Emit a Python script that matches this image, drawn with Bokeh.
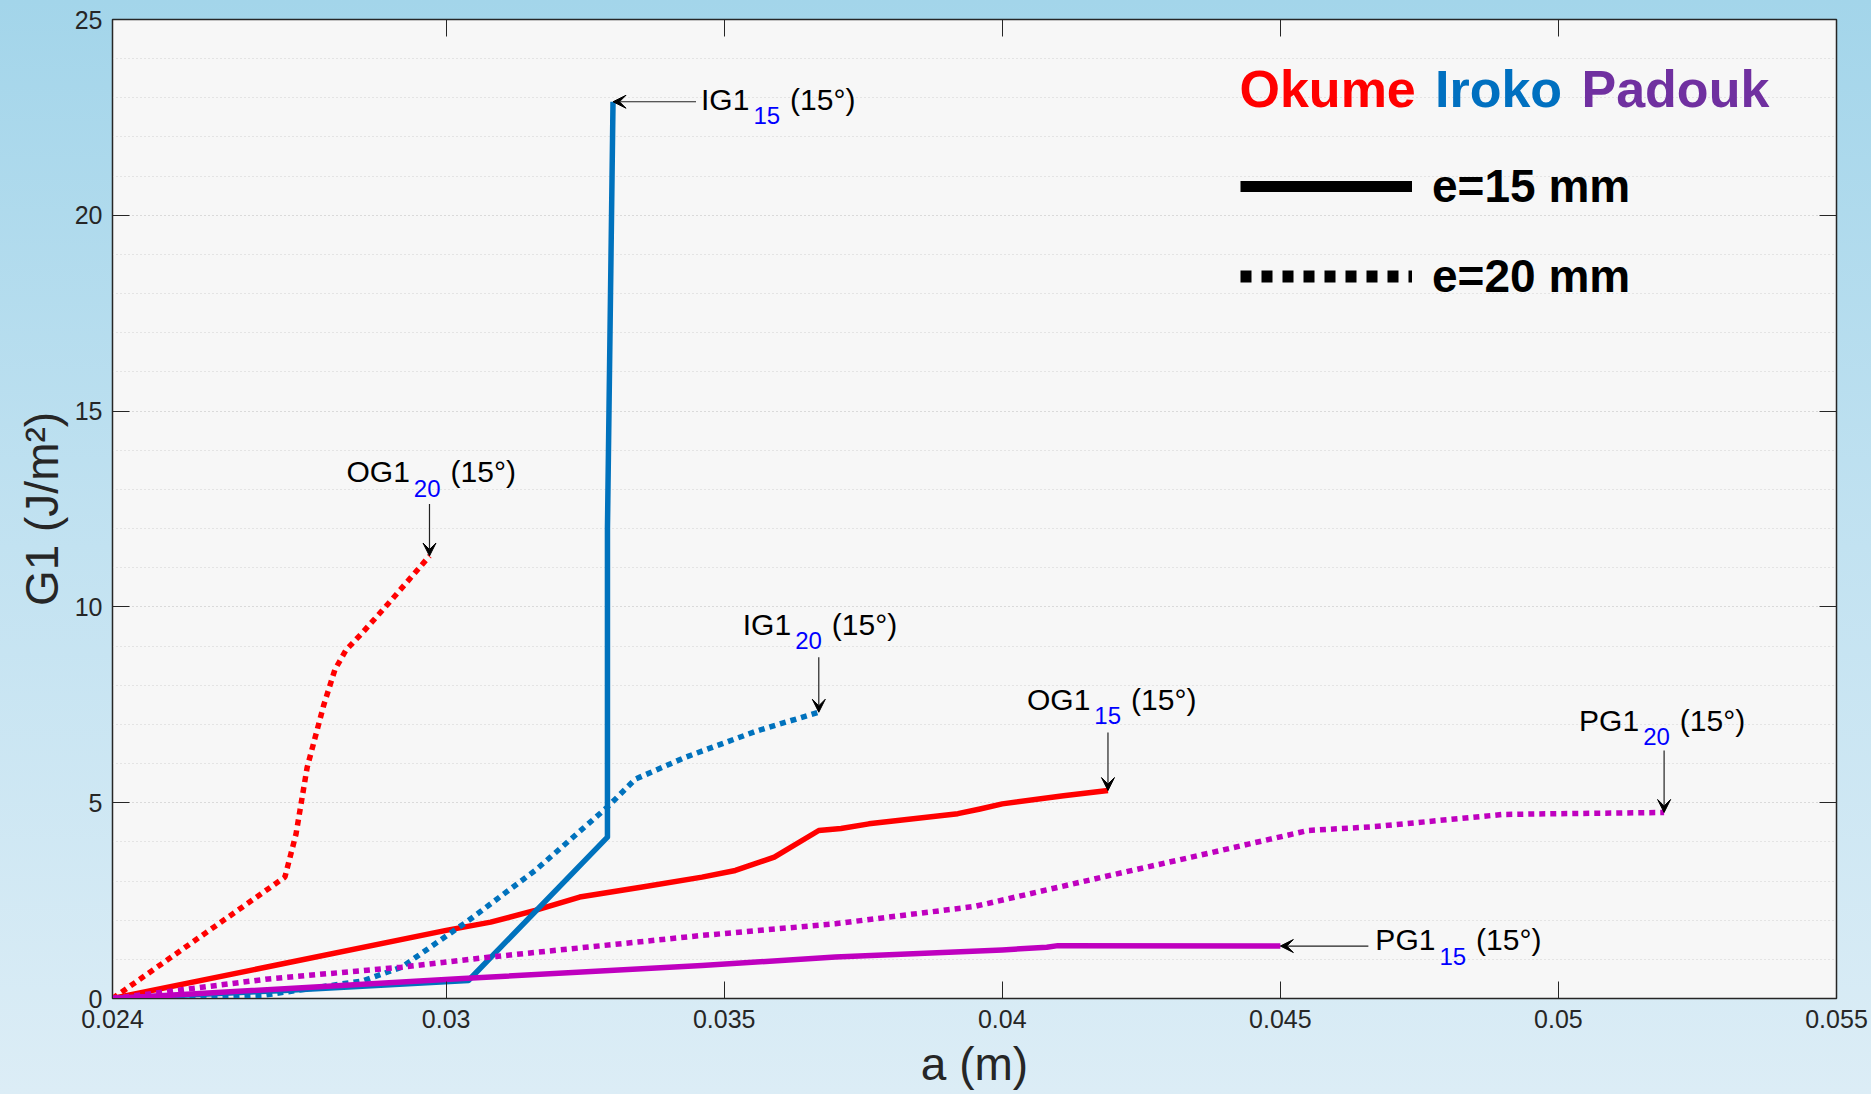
import numpy as np
from bokeh.plotting import figure
from bokeh.models import (Range1d, FixedTicker, LinearAxis, Label, Arrow, VeeHead,
                          Legend, LegendItem, CustomJSTickFormatter)
from bokeh.embed import file_html
from bokeh.resources import INLINE

# Crack length a (m) versus energy release rate G1 (J/m^2), mode I, 15 degree grain angle
og1_15_a = [0.024, 0.0300, 0.0308, 0.0316, 0.0324, 0.0335, 0.0346, 0.0352, 0.0359,
            0.0367, 0.0371, 0.0376, 0.0392, 0.0396, 0.0400, 0.0411, 0.0419]
og1_15_g = [0.0, 1.74, 1.95, 2.25, 2.59, 2.84, 3.10, 3.27, 3.61,
            4.29, 4.34, 4.46, 4.72, 4.84, 4.97, 5.18, 5.31]

og1_20_a = [0.024, 0.0271, 0.0273, 0.0275, 0.0278, 0.0280, 0.0282, 0.0285, 0.0290, 0.0297]
og1_20_g = [0.0, 3.10, 4.20, 5.90, 7.50, 8.40, 8.90, 9.35, 10.15, 11.30]

ig1_15_a = [0.024, 0.0270, 0.0304, 0.0329, 0.0329, 0.0330]
ig1_15_g = [0.0, 0.20, 0.46, 4.12, 12.0, 22.9]

ig1_20_a = [0.024, 0.0255, 0.0267, 0.0285, 0.0292, 0.0304, 0.0316, 0.0329,
            0.0334, 0.0343, 0.0356, 0.0367]
ig1_20_g = [0.0, 0.02, 0.08, 0.45, 0.80, 1.99, 3.27, 4.89,
            5.60, 6.16, 6.84, 7.31]

pg1_15_a = [0.024, 0.0303, 0.0346, 0.0370, 0.0400, 0.0408, 0.0410, 0.0450]
pg1_15_g = [0.0, 0.51, 0.84, 1.06, 1.24, 1.31, 1.35, 1.34]

pg1_20_a = [0.024, 0.0268, 0.0292, 0.0308, 0.0346, 0.0370, 0.0395, 0.0418,
            0.0434, 0.0455, 0.0467, 0.0490, 0.0500, 0.0519]
pg1_20_g = [0.0, 0.50, 0.80, 1.06, 1.61, 1.91, 2.35, 3.10,
            3.61, 4.29, 4.39, 4.70, 4.72, 4.75]

x_ticks = [0.024, 0.03, 0.035, 0.04, 0.045, 0.05, 0.055]
x_tick_labels = ["0.024", "0.03", "0.035", "0.04", "0.045", "0.05", "0.055"]
y_ticks = [0, 5, 10, 15, 20, 25]
y_tick_labels = ["0", "5", "10", "15", "20", "25"]
y_grid_minor = list(range(0, 26))

species = ["Okume", "Iroko", "Padouk"]
species_colors = ["#FF0000", "#0070C0", "#7030A0"]
thickness_labels = ["e=15 mm", "e=20 mm"]

X_MIN, X_MAX = 0.024, 0.055
Y_MIN, Y_MAX = 0.0, 25.0
W, H = 1871, 1094
LEFT, RIGHT, TOP, BOTTOM = 112, 35, 19, 96
FRAME_W = W - LEFT - RIGHT
FRAME_H = H - TOP - BOTTOM
BASE = 0.37  # lift (in em) that puts an alphabetic baseline where intended

RED, BLUE, MAGENTA = "#FF0000", "#0072BD", "#BF00BF"
INK = "#262626"
FONT = "Liberation Sans"

p = figure(width=W, height=H, output_backend="svg", toolbar_location=None,
           x_range=Range1d(X_MIN, X_MAX), y_range=Range1d(Y_MIN, Y_MAX),
           min_border_left=LEFT, min_border_right=RIGHT,
           min_border_top=TOP, min_border_bottom=BOTTOM)
p.styles = {"background": "linear-gradient(to bottom, #a3d5ea 0%, #c2e2f1 50%, #dcedf6 100%)"}
p.border_fill_color = None
p.background_fill_color = "#F7F7F7"
p.outline_line_color = INK
p.outline_line_width = 1.5

# bottom / left axes
p.xaxis.ticker = FixedTicker(ticks=x_ticks)
p.xaxis.major_label_overrides = {t: s for t, s in zip(x_ticks, x_tick_labels)}
p.yaxis.ticker = FixedTicker(ticks=y_ticks, minor_ticks=y_grid_minor)
p.yaxis.major_label_overrides = {t: s for t, s in zip(y_ticks, y_tick_labels)}
for ax in (p.xaxis, p.yaxis):
    ax.major_tick_in = 17
    ax.major_tick_out = 0
    ax.minor_tick_in = 0
    ax.minor_tick_out = 0
    ax.axis_line_color = INK
    ax.major_tick_line_color = INK
    ax.major_label_text_font = FONT
    ax.major_label_text_font_size = "25px"
    ax.major_label_text_color = INK
    ax.axis_label_text_font = FONT
    ax.axis_label_text_font_size = "46px"
    ax.axis_label_text_font_style = "normal"
    ax.axis_label_text_color = INK
p.xaxis.major_label_standoff = 11
p.yaxis.major_label_standoff = 10
p.xaxis.axis_label = "a (m)"
p.yaxis.axis_label = "G1 (J/m²)"
p.xaxis.axis_label_standoff = 7
p.yaxis.axis_label_standoff = 4

# mirrored ticks on top and right (box on)
blank = CustomJSTickFormatter(code="return ''")
top_ax = LinearAxis(ticker=FixedTicker(ticks=x_ticks), formatter=blank)
right_ax = LinearAxis(ticker=FixedTicker(ticks=y_ticks), formatter=blank)
for ax in (top_ax, right_ax):
    ax.major_tick_in = 17
    ax.major_tick_out = 0
    ax.minor_tick_in = 0
    ax.minor_tick_out = 0
    ax.axis_line_color = None
    ax.major_tick_line_color = INK
    ax.major_label_standoff = 0
p.add_layout(top_ax, "above")
p.add_layout(right_ax, "right")

p.xgrid.grid_line_color = None
p.ygrid.grid_line_color = "#D0D0D0"
p.ygrid.grid_line_dash = "1 3"
p.ygrid.minor_grid_line_color = "#D0D0D0"
p.ygrid.minor_grid_line_dash = "1 3"

ARIAL_W = {"O": 778, "G": 778, "I": 278, "P": 667,
           "0": 556, "1": 556, "2": 556, "5": 556, "(": 333, ")": 333, "°": 400, " ": 278}


def text_w(s, size):
    return sum(ARIAL_W[c] for c in s) * size / 1000.0


# curves
curves = [
    (og1_15_a, og1_15_g, RED, None),
    (og1_20_a, og1_20_g, RED, "6 5"),
    (ig1_15_a, ig1_15_g, BLUE, None),
    (ig1_20_a, ig1_20_g, BLUE, "6 5"),
    (pg1_15_a, pg1_15_g, MAGENTA, None),
    (pg1_20_a, pg1_20_g, MAGENTA, "6 5"),
]
for a, g, col, dash in curves:
    if dash is None:
        p.line(a, g, line_color=col, line_width=5.5, line_join="round")
    else:
        p.line(a, g, line_color=col, line_width=5.5, line_dash=dash, line_cap="butt")


def tag(name, sub, a, g, text_dx, text_dy, tail_dx, tail_dy):
    """Curve-end tag: name with blue subscript and grain angle, plus an arrow to the end point."""
    x_end, y_end = a[-1], g[-1]
    x_tail = x_end + tail_dx * (X_MAX - X_MIN) / FRAME_W
    y_tail = y_end + tail_dy * (Y_MAX - Y_MIN) / FRAME_H
    p.add_layout(Arrow(end=VeeHead(size=13, fill_color="black", line_color="black", line_width=1),
                       x_start=x_tail, y_start=y_tail, x_end=x_end, y_end=y_end,
                       line_color="#222222", line_width=1.2))
    w1 = text_w(name, 30)
    w2 = text_w(sub, 24)
    pieces = [(name, text_dx, text_dy, 30, "black"),
              (sub, text_dx + w1 + 4, text_dy - 14, 24, "#0000FF"),
              ("(15°)", text_dx + w1 + 4 + w2 + 10, text_dy, 30, "black")]
    for txt, dx, dy, size, col in pieces:
        p.add_layout(Label(x=x_end, y=y_end, x_offset=dx, y_offset=dy + BASE * size, text=txt,
                           text_align="left", text_baseline="alphabetic",
                           text_font=FONT, text_font_size=f"{size}px", text_color=col))


tag("IG1", "15", ig1_15_a, ig1_15_g, 88, -8.5, 83, 0)
tag("OG1", "20", og1_20_a, og1_20_g, -83, 73, 0, 52)
tag("IG1", "20", ig1_20_a, ig1_20_g, -76, 77, 0, 55)
tag("OG1", "15", og1_15_a, og1_15_g, -81, 80, 0, 58)
tag("PG1", "20", pg1_20_a, pg1_20_g, -85, 81, 0, 62)
tag("PG1", "15", pg1_15_a, pg1_15_g, 95, -5, 88, 0)

# species heading, coloured by wood type
for name, col, sx in zip(species, species_colors, [1127, 1322.5, 1469]):
    p.add_layout(Label(x=sx, y=890 + BASE * 52, x_units="screen", y_units="screen", text=name,
                       text_align="left", text_baseline="alphabetic",
                       text_font=FONT, text_font_size="52px", text_font_style="bold",
                       text_color=col))

# thickness key (renderers hold a single NaN point so only the key glyph shows)
r15 = p.line(x=[np.nan], y=[np.nan], line_color="black", line_width=11)
r20 = p.line(x=[np.nan], y=[np.nan], line_color="black", line_width=12,
             line_dash="11 10", line_cap="butt")
legend = Legend(items=[LegendItem(label=thickness_labels[0], renderers=[r15]),
                       LegendItem(label=thickness_labels[1], renderers=[r20])],
                location=(1128, 692), glyph_width=172, glyph_height=60, label_height=60,
                spacing=30, padding=0, margin=0, label_standoff=20,
                label_text_font=FONT, label_text_font_style="bold", label_text_font_size="46px",
                label_text_color="black", background_fill_alpha=0, border_line_alpha=0)
p.add_layout(legend)

open("out.html", "w").write(file_html(p, INLINE))
